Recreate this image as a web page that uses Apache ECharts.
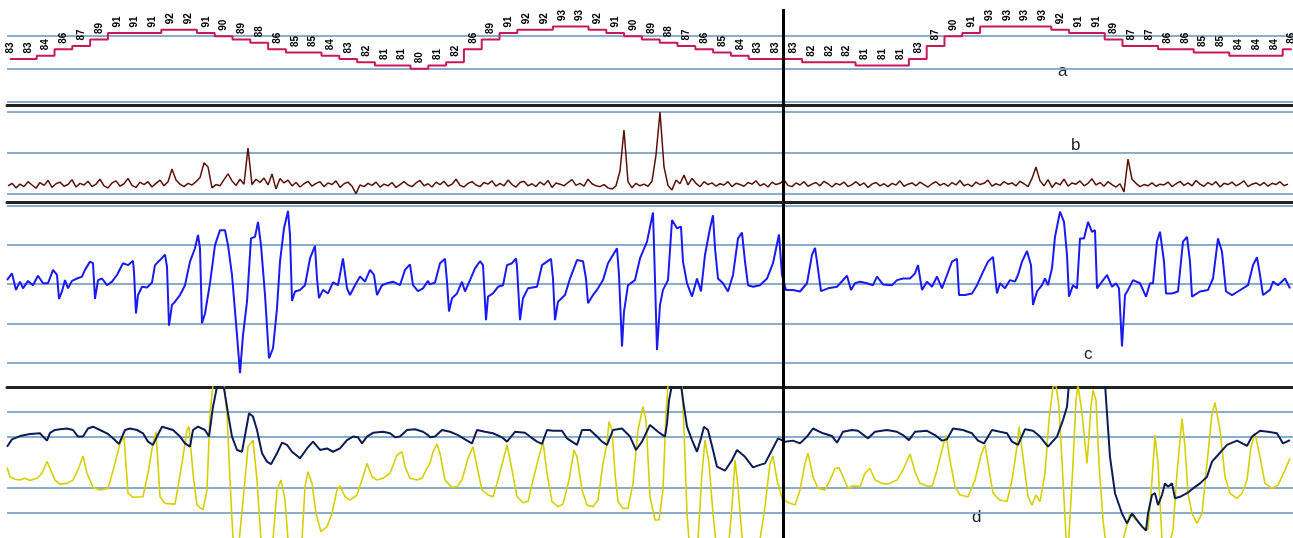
<!DOCTYPE html>
<html><head><meta charset="utf-8">
<script src="https://cdn.jsdelivr.net/npm/echarts/dist/echarts.min.js"></script>
<style>html,body{margin:0;padding:0;background:#fff}#chart{width:1293px;height:538px}</style>
</head><body><div id="chart"></div>
<script>
// Panel a: trend values (one per label)
const trendValues = [83,83,84,86,87,89,91,91,91,92,92,91,90,89,88,86,85,85,84,83,82,81,81,80,81,82,86,89,91,92,92,93,93,92,91,90,89,88,87,86,85,84,83,83,
  83,82,82,82,81,81,81,83,87,90,91,93,93,93,93,92,91,91,89,87,87,86,86,85,85,84,84,84,86];

// Panel b: noisy trace, one sample every 4 time units starting at 8
const sigBStart = 8, sigBStep = 4;
const sigB = [
 2.0,2.6,1.5,2.4,1.8,3.0,2.2,1.4,2.8,2.1,3.3,1.6,2.5,2.9,1.9,2.3,3.5,1.7,2.6,2.2,
 3.1,1.8,2.4,3.6,2.0,1.5,2.7,3.2,1.9,2.5,3.8,2.1,1.6,2.9,2.3,3.0,1.7,2.6,3.4,2.0,
 3.0,6.1,3.4,2.4,1.8,2.6,2.2,3.0,4.0,7.6,6.6,1.5,2.3,2.0,3.5,4.9,3.2,2.1,3.6,2.4,
 11.2,2.3,3.6,2.8,3.9,2.2,4.9,1.2,3.8,2.7,3.4,2.0,2.8,1.7,2.5,3.1,1.9,2.6,3.0,1.8,
 2.7,2.3,3.2,1.6,2.5,2.9,1.9,0.1,2.2,1.8,2.6,2.1,2.9,1.7,2.4,2.0,2.8,1.6,2.3,3.0,
 2.2,1.8,2.7,3.3,2.0,2.5,1.7,2.9,2.3,3.1,1.9,2.4,3.6,2.1,1.7,2.6,3.0,2.2,1.8,2.8,
 2.4,3.2,1.9,2.6,2.0,3.4,2.3,1.7,2.8,3.1,2.0,2.5,1.8,2.9,2.2,3.3,1.6,2.7,2.4,2.0,
 2.8,3.5,2.1,2.6,1.9,3.6,2.5,2.0,1.8,2.3,1.5,1.2,2.0,5.6,15.6,3.0,1.5,2.6,2.0,2.4,
 1.9,3.1,9.5,20.0,6.6,2.1,1.0,3.4,2.5,4.6,2.2,3.8,2.6,1.8,3.0,2.3,2.7,1.9,2.5,2.2,
 3.0,1.8,2.6,2.3,1.9,2.8,2.4,3.2,2.0,2.5,1.7,2.9,2.3,2.6,3.4,2.1,1.8,2.7,2.2,3.0,
 1.9,2.4,2.8,2.0,3.1,2.5,1.7,2.6,2.2,2.9,1.8,2.3,3.0,2.1,2.7,1.6,2.4,2.8,2.0,2.5,
 1.8,2.6,2.2,3.2,1.9,2.4,2.7,2.0,2.9,2.3,1.7,2.5,3.0,2.1,2.6,1.9,2.8,2.2,3.3,2.0,
 2.4,1.8,2.9,2.3,2.6,3.4,1.9,2.5,2.1,3.0,2.4,2.7,2.0,3.1,2.5,1.8,3.8,6.6,3.2,2.0,
 3.5,1.6,2.8,2.2,3.6,1.9,2.7,2.4,3.2,2.0,2.6,3.7,2.2,2.8,1.9,3.0,2.3,1.7,2.5,0.5,
 8.5,3.6,2.6,1.8,2.3,2.0,2.7,1.9,2.4,2.2,2.9,1.8,2.5,3.1,2.1,2.7,2.0,3.3,2.4,1.9,
 2.8,2.2,3.0,1.7,2.6,2.3,2.9,2.0,2.5,3.2,1.8,2.4,2.7,2.1,2.8,1.9,2.6,2.3,3.0,2.0,2.4
];

// Panel c: blue trace [time, value]
const sigC = [[7,1.0],[12,2.7],[16,-1.5],[20,0.6],[23,-1.1],[28,0.8],[33,-0.3],[38,2.1],[43,0.2],[48,0.2],[53,3.6],[57,2.3],[59,-3.8],[62,-1.9],[65,1.0],[68,-1.1],[72,0.8],[77,1.4],[82,1.9],[85,3.6],[90,5.7],[93,5.3],[95,-3.8],[98,1.0],[102,1.4],[107,-0.3],[112,0.6],[117,2.3],[123,5.3],[128,4.8],[133,5.9],[134,3.1],[136,-7.5],[138,-2.8],[142,-0.7],[147,-0.9],[152,0.4],[155,4.8],[160,6.1],[165,7.5],[167,4.4],[169,-10.6],[172,-5.3],[175,-4.5],[180,-2.8],[185,-0.3],[190,5.7],[195,9.1],[198,12.5],[200,9.1],[202,-10.0],[205,-7.5],[210,0.2],[215,9.9],[220,13.7],[225,13.7],[228,9.9],[232,2.3],[237,-13.0],[240,-22.7],[243,-13.0],[247,-4.5],[251,11.6],[255,12.0],[258,15.8],[261,9.9],[265,-2.8],[269,-18.9],[273,-16.4],[277,-6.2],[280,5.7],[284,14.2],[288,18.6],[290,12.5],[292,-4.3],[295,-1.9],[300,-1.5],[305,-0.3],[310,6.5],[315,9.7],[317,1.4],[319,-3.6],[323,-1.5],[328,-2.4],[333,0.4],[338,-0.3],[343,6.5],[347,-1.1],[350,-2.8],[355,-0.3],[360,1.9],[365,0.6],[370,3.6],[374,2.3],[377,-2.8],[382,-0.3],[387,0.2],[393,0.6],[400,-0.3],[405,3.6],[410,5.0],[413,-0.3],[418,-1.8],[423,-1.1],[428,0.8],
[430,-0.1],[435,0.4],[440,5.3],[445,6.4],[447,0.6],[449,-7.0],[452,-3.6],[457,-2.4],[462,0.6],[465,-1.9],[470,1.0],[475,4.0],[480,5.8],[483,4.8],[486,-9.2],[488,-3.2],[493,-2.4],[498,-0.7],[503,-0.3],[507,4.8],[512,5.3],[516,6.5],[517,4.4],[520,-9.2],[523,-3.6],[528,-1.1],[537,-0.7],[542,4.8],[547,5.7],[551,6.4],[553,1.4],[555,-9.2],[558,-4.5],[565,-2.8],[570,1.4],[577,6.1],[583,5.8],[586,1.4],[588,-4.9],[593,-2.8],[598,-1.1],[603,1.0],[608,5.3],[617,9.1],[619,2.3],[622,-15.9],[624,-7.0],[628,-0.3],[635,1.0],[640,6.5],[647,10.8],[653,18.2],[654,9.9],[657,-16.8],[660,-5.3],[663,-1.5],[668,1.0],[672,16.3],[677,14.2],[681,14.6],[683,5.7],[687,0.2],[692,-3.2],[697,1.4],[701,-1.9],[705,7.4],[710,14.2],[713,17.5],[715,9.1],[718,1.4],[723,0.2],[728,-1.9],[733,2.3],[738,11.6],[742,13.1],[745,5.7],[748,-0.3],[753,-0.7],[760,-0.3],[767,1.4],[773,5.3],[779,12.6],[782,2.3],[786,-1.5],[793,-1.5],[800,-1.9],[807,0.2],[812,7.4],[815,9.2],[817,5.7],[821,-1.8],[828,-1.1],[837,-0.7],[847,2.1],[851,-1.5],[855,0.2],
[860,0.6],[867,0.2],[873,-0.3],[877,1.9],[883,-0.1],[892,-0.3],[897,1.0],[903,1.4],[910,1.4],[915,2.7],[918,4.8],[922,-1.5],[927,0.6],[932,-0.7],[937,1.9],[942,-1.1],[947,2.3],[952,5.7],[957,6.4],[959,-2.8],[965,-2.8],[972,-2.4],[977,-0.3],[983,3.1],[988,5.7],[993,6.9],[997,-2.4],[1000,0.2],[1005,-1.1],[1010,1.0],[1015,0.6],[1018,2.3],[1022,5.7],[1027,8.4],[1031,4.8],[1033,-5.3],[1037,-1.9],[1042,-0.3],[1045,1.4],[1048,-0.3],[1052,4.0],[1055,12.0],[1060,18.4],[1064,15.8],[1067,7.4],[1069,-3.2],[1073,-0.3],[1077,-1.1],[1080,11.6],[1084,11.6],[1088,15.8],[1092,13.3],[1095,13.7],[1097,-1.1],[1102,0.6],[1107,2.3],[1112,-0.7],[1116,0.2],[1119,-1.1],[1122,-15.9],[1125,-2.8],[1128,-1.5],[1133,1.0],[1140,0.2],[1146,-3.2],[1150,0.2],[1153,0.2],[1157,10.8],[1160,13.3],[1164,5.7],[1166,-2.4],[1172,-2.4],[1178,-1.9],[1183,10.8],[1187,12.0],[1190,5.7],[1192,-3.2],[1200,-1.9],[1208,-1.5],[1213,1.4],[1218,11.6],[1222,8.2],[1226,-1.9],[1232,-2.8],[1238,-1.9],[1248,-0.3],[1253,4.8],[1257,6.8],[1260,2.3],[1263,-2.8],[1270,-1.5],[1273,0.6],[1278,-0.3],[1285,1.4],[1290,-1.1]];

// Panel d: navy trace [time, value]
const sigDNavy = [[7,36.1],[12,39.0],[20,40.3],[30,41.1],[40,41.4],[43,40.1],[47,38.5],[50,41.6],[55,42.7],[60,43.0],[67,43.3],[73,42.7],[78,40.1],[83,40.1],[88,43.3],[93,44.0],[100,42.7],[107,41.4],[113,39.4],[119,37.2],[125,42.7],[130,43.3],[137,42.7],[143,41.4],[148,38.1],[153,36.8],[157,40.1],[162,44.0],[168,43.3],[173,42.7],[180,40.1],[185,37.4],[190,36.1],[193,42.7],[198,44.0],[205,42.7],[209,40.1],[213,51.9],[217,59.8],[220,60.5],[224,59.2],[228,49.3],[232,40.1],[237,34.8],[242,34.1],[246,42.7],[249,49.3],[253,48.0],[257,42.7],[262,33.5],[267,30.2],[271,29.2],[277,33.5],[282,37.7],[287,36.8],[292,34.1],[300,31.5],[307,35.4],[313,38.1],[320,34.8],[327,35.4],[333,34.1],[340,35.4],[347,38.7],[353,40.1],[358,39.8],[362,37.4],[367,40.1],[373,41.6],[383,42.0],[390,41.4],[395,39.8],[400,40.1],[407,42.7],[415,43.0],[423,42.0],[428,40.7],
[430,39.8],[435,40.1],[442,42.7],[450,42.0],[458,40.7],[465,39.0],[472,37.4],[477,42.7],[485,42.0],[493,41.4],[502,39.8],[507,38.1],[515,42.0],[525,41.6],[530,40.1],[537,38.1],[542,37.2],[547,42.7],[553,42.4],[562,42.4],[567,39.4],[572,38.1],[577,36.8],[582,42.7],[590,42.7],[597,40.1],[602,38.1],[607,36.8],[613,42.7],[622,43.3],[630,40.1],[636,34.8],[642,38.1],[650,44.7],[658,42.0],[665,40.1],[667,45.3],[669,54.5],[672,60.5],[681,60.5],[683,54.5],[687,44.0],[692,38.7],[697,34.1],[701,39.4],[704,44.0],[708,42.7],[713,34.8],[717,28.2],[725,26.6],[732,30.8],[737,34.8],[745,32.1],[753,27.9],[760,28.9],[765,29.5],[772,34.8],[778,39.4],[785,38.1],[793,38.5],[800,37.4],[807,40.1],[813,43.3],[823,41.4],[832,40.3],[837,37.7],[843,42.0],[852,42.7],[858,42.4],
[860,42.7],[868,39.4],[875,42.0],[887,42.7],[897,42.0],[903,40.7],[909,38.7],[915,42.0],[927,42.4],[935,40.7],[942,38.5],[947,39.0],[953,43.3],[963,42.7],[972,41.4],[978,38.5],[984,37.4],[992,42.7],[1000,42.0],[1007,41.4],[1012,38.1],[1018,36.8],[1025,43.0],[1033,42.4],[1040,40.1],[1048,36.1],[1057,40.1],[1063,46.6],[1067,51.9],[1069,61.1],[1105,61.1],[1107,49.3],[1110,32.1],[1115,17.7],[1122,9.7],[1127,5.8],[1132,9.7],[1134,10.4],[1137,7.1],[1142,4.5],[1146,2.9],[1148,9.7],[1152,17.0],[1155,17.7],[1158,13.0],[1162,17.0],[1165,21.6],[1168,20.3],[1172,21.6],[1175,15.7],[1180,16.3],[1187,17.7],[1193,19.6],[1200,21.6],[1207,24.2],[1212,30.2],[1218,32.8],[1227,36.8],[1237,38.5],[1247,36.4],[1252,40.1],[1260,42.4],[1268,42.0],[1277,41.4],[1283,37.4],[1290,38.7]];

// Panel d: yellow trace [time, value]
const sigDYellow = [[7,27.9],[10,24.2],[15,23.2],[20,22.9],[25,23.6],[30,22.7],[37,23.6],[42,25.6],[47,30.2],[50,27.5],[55,22.9],[60,21.3],[67,21.6],[73,22.9],[78,26.9],[83,32.4],[87,25.6],[93,20.0],[100,19.0],[108,19.6],[115,29.5],[120,37.4],[124,40.1],[128,17.7],[133,16.1],[143,16.3],[148,25.6],[153,37.4],[156,42.0],[160,16.3],[165,13.7],[175,13.4],[182,29.5],[187,42.7],[189,44.0],[193,25.6],[197,13.0],[203,11.1],[207,19.0],[210,49.3],[213,60.5],[224,60.5],[227,49.3],[230,22.9],[233,-0.1],[238,-6],[245,22.9],[248,36.1],[253,38.7],[257,22.9],[261,-0.8],[267,-6],[273,-0.8],[277,19.0],[281,22.9],[285,15.0],[288,-0.8],[295,-6],[302,-0.8],[305,20.3],[308,26.2],[312,21.6],[316,9.7],[321,2.5],[327,4.5],[332,9.7],[337,19.0],[340,20.6],[345,16.3],[350,15.0],[357,17.0],[362,22.9],[367,29.5],[372,24.2],[377,22.9],[383,23.6],[390,25.6],[397,32.8],[402,34.1],[405,28.2],[410,23.6],[417,22.9],[422,23.6],[427,27.5],
[430,29.5],[433,34.1],[437,37.2],[440,33.5],[445,22.9],[452,20.0],[457,20.3],[462,22.9],[468,31.5],[473,36.1],[477,28.2],[482,19.0],[488,17.0],[493,16.3],[498,22.9],[504,32.1],[507,36.8],[512,26.9],[517,16.3],[523,14.0],[528,14.4],[533,22.9],[538,30.8],[543,38.1],[547,25.6],[552,14.4],[558,12.4],[563,13.4],[569,22.9],[574,34.8],[577,32.1],[582,19.0],[587,13.0],[593,12.4],[598,15.0],[603,29.5],[607,37.4],[609,46.0],[612,42.7],[615,25.6],[618,14.4],[623,11.7],[628,11.7],[633,21.6],[638,42.7],[643,51.9],[646,46.6],[650,16.3],[655,7.1],[659,7.1],[663,19.0],[666,49.3],[668,60.5],[682,60.5],[684,42.7],[687,9.7],[690,-6],[698,-0.8],[702,25.6],[705,38.7],[709,29.5],[713,9.7],[717,-6],[728,-6],[732,12.4],[735,30.8],[738,20.3],[742,0.5],[745,-6],[760,-0.8],[765,12.4],[770,29.5],[773,32.4],[777,22.9],[782,15.7],[788,14.0],[795,13.0],[800,19.0],[805,29.5],[808,33.5],[813,24.2],[818,19.6],[825,19.0],[830,22.9],[835,27.5],[839,27.9],[843,24.2],[848,19.6],[853,20.6],
[860,20.3],[865,25.6],[870,27.5],[875,22.9],[882,21.6],[888,21.3],[897,22.9],[903,26.9],[910,33.2],[915,26.2],[920,21.6],[927,20.6],[932,20.3],[937,26.9],[942,34.8],[946,40.7],[950,30.8],[955,20.3],[960,17.0],[968,16.3],[975,22.9],[981,32.8],[985,36.8],[988,29.5],[993,17.7],[1000,15.0],[1007,14.4],[1012,22.9],[1017,36.1],[1019,44.0],[1023,32.1],[1028,16.3],[1032,13.0],[1036,17.0],[1040,14.4],[1045,25.6],[1049,46.6],[1053,59.8],[1056,60.5],[1059,51.9],[1063,22.9],[1066,0.5],[1068,-6],[1073,29.5],[1076,54.5],[1078,60.5],[1082,49.3],[1087,29.5],[1091,51.9],[1093,58.5],[1096,54.5],[1099,29.5],[1103,7.1],[1107,-6],[1117,-6],[1123,-0.8],[1130,9.7],[1136,7.1],[1143,4.5],[1148,3.2],[1152,22.9],[1155,40.7],[1158,29.5],[1162,-0.8],[1167,-6],[1173,3.2],[1177,25.6],[1182,47.3],[1185,36.1],[1188,17.7],[1192,9.7],[1197,5.8],[1202,9.7],[1207,29.5],[1212,49.3],[1215,53.5],[1220,42.7],[1225,24.2],[1230,17.7],[1237,15.7],[1242,17.7],[1247,22.9],[1251,36.1],[1255,41.4],[1260,32.1],[1265,21.6],[1272,19.6],[1278,20.9],[1285,26.9],[1290,31.5]];

// Reference grid levels per panel
const levelsA = [70, 80, 90];
const levelsB = [0, 10, 20];
const levelsC = [-20, -10, 0, 10, 20];
const levelsD = [10, 20, 40, 50];
const markerTime = 783;     // vertical event marker (time units)
const markerIndexA = 43.43; // same marker on panel a index axis
const panelNames = ['a', 'b', 'c', 'd'];

const GRIDC = '#7fa4c3';
const SEP = '#222222';

function levelLines(levels) {
  return {
    silent: true, symbol: ['none', 'none'], z: 1, animation: false,
    label: { show: false },
    lineStyle: { color: GRIDC, width: 2, type: 'solid', opacity: 0.9 },
    data: levels.map(v => ({ yAxis: v }))
  };
}
function marker(xval, y0, y1) {
  const d = (y0 === undefined) ? [{ xAxis: xval }] : [[{ coord: [xval, y0] }, { coord: [xval, y1] }]];
  return {
    silent: true, symbol: ['none', 'none'], z: 10, animation: false,
    label: { show: false },
    lineStyle: { color: '#000', width: 3, type: 'solid' },
    data: d
  };
}

const chart = echarts.init(document.getElementById('chart'), null, { renderer: 'canvas' });

const xBase = (gi, min, max, sep) => ({
  type: 'value', gridIndex: gi, min: min, max: max, position: 'top',
  axisLine: { show: !!sep, onZero: false, lineStyle: { color: SEP, width: 3 } },
  axisTick: { show: false }, axisLabel: { show: false }, splitLine: { show: false }
});
const yBase = (gi, min, max) => ({
  type: 'value', gridIndex: gi, min: min, max: max, show: false,
  splitLine: { show: false }
});

const option = {
  backgroundColor: '#ffffff',
  animation: false,
  grid: [
    { left: 7, right: 0, top: 0, height: 105 },
    { left: 7, right: 0, top: 105, height: 97 },
    { left: 7, right: 0, top: 202, height: 185 },
    { left: 7, right: 0, top: 387, height: 151 }
  ],
  xAxis: [
    xBase(0, -0.17, 72.08, false),
    xBase(1, 7, 1293, true),
    xBase(2, 7, 1293, true),
    xBase(3, 7, 1293, true)
  ],
  yAxis: [
    yBase(0, 68.85, 101.15),
    yBase(1, -1.95, 21.7),
    yBase(2, -26.2, 20.87),
    yBase(3, 0, 59.7)
  ],
  series: [
    {
      type: 'line', xAxisIndex: 0, yAxisIndex: 0, step: 'middle',
      data: trendValues.map((v, i) => [i, v]),
      symbol: 'circle', symbolSize: 1, showSymbol: true,
      itemStyle: { color: '#c8185c' },
      lineStyle: { color: '#c8185c', width: 2 },
      label: {
        show: true, position: 'top', distance: 5, rotate: 90,
        align: 'left', verticalAlign: 'middle',
        fontSize: 10, fontWeight: 'bold', color: '#000',
        fontFamily: 'Liberation Sans, Arial, sans-serif',
        formatter: p => String(p.value[1])
      },
      markLine: levelLines(levelsA), z: 3
    },
    {
      type: 'line', xAxisIndex: 0, yAxisIndex: 0, data: [],
      markLine: marker(markerIndexA, 98.4, 68.85)
    },
    {
      type: 'line', xAxisIndex: 1, yAxisIndex: 1,
      data: sigB.map((v, i) => [sigBStart + sigBStep * i, v]),
      showSymbol: false, symbol: 'none',
      lineStyle: { color: '#5a1008', width: 1.5 },
      markLine: levelLines(levelsB), z: 3
    },
    {
      type: 'line', xAxisIndex: 1, yAxisIndex: 1, data: [],
      markLine: marker(markerTime)
    },
    {
      type: 'line', xAxisIndex: 2, yAxisIndex: 2, data: sigC,
      showSymbol: false, symbol: 'none',
      lineStyle: { color: '#1a1af2', width: 2 },
      markLine: levelLines(levelsC), z: 3
    },
    {
      type: 'line', xAxisIndex: 2, yAxisIndex: 2, data: [],
      markLine: marker(markerTime)
    },
    {
      type: 'line', xAxisIndex: 3, yAxisIndex: 3, data: sigDYellow,
      showSymbol: false, symbol: 'none', clip: true,
      lineStyle: { color: '#d6cf00', width: 1.6 },
      markLine: levelLines(levelsD), z: 3
    },
    {
      type: 'line', xAxisIndex: 3, yAxisIndex: 3, data: sigDNavy,
      showSymbol: false, symbol: 'none', clip: true,
      lineStyle: { color: '#0c1d55', width: 2 },
      markLine: marker(markerTime), z: 4
    }
  ],
  graphic: [
    { type: 'text', left: 1058, top: 63, style: { text: panelNames[0], font: '17px "Liberation Sans", Arial, sans-serif', fill: '#222' } },
    { type: 'text', left: 1071, top: 137, style: { text: panelNames[1], font: '17px "Liberation Sans", Arial, sans-serif', fill: '#222' } },
    { type: 'text', left: 1084, top: 346, style: { text: panelNames[2], font: '17px "Liberation Sans", Arial, sans-serif', fill: '#222' } },
    { type: 'text', left: 972, top: 509, style: { text: panelNames[3], font: '17px "Liberation Sans", Arial, sans-serif', fill: '#222' } }
  ]
};
chart.setOption(option);
</script>
</body></html>
